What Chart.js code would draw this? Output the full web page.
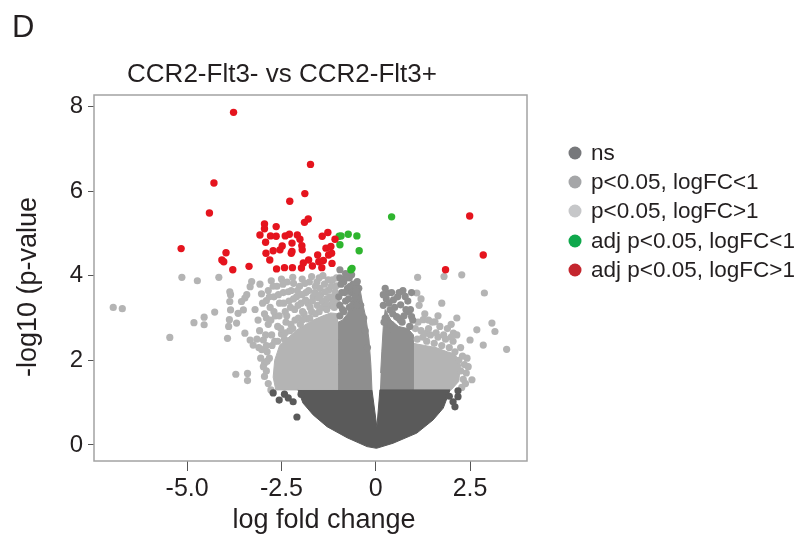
<!DOCTYPE html>
<html>
<head>
<meta charset="utf-8">
<script src="https://cdn.jsdelivr.net/npm/chart.js@4"></script>
<style>
  body { margin: 0; background: #fff; }
  #wrap { width: 809px; height: 550px; }
</style>
</head>
<body>
<div id="wrap"><canvas id="volcano"></canvas></div>
<script>
// axis ticks and labels
const xTicks = [-5, -2.5, 0, 2.5]
const yTicks = [0, 2, 4, 6, 8]
const legendLabels = ['ns', 'p<0.05, logFC<1', 'p<0.05, logFC>1', 'adj p<0.05, logFC<1', 'adj p<0.05, logFC>1']

// dense clouds, read as outlines [logFC, -log10 p]
const nsCore = [[-2.06,1.3],[-1.93,0.99],[-1.66,0.71],[-1.29,0.43],[-0.76,0.17],[-0.23,-0.04],[0.02,-0.08],[0.46,0.04],[1.09,0.28],[1.52,0.59],[1.79,0.87],[1.97,1.3],[0.11,1.3],[0.03,0.42],[-0.1,1.3]]
const lowFcLeftCore = [[-1.0,1.3],[-0.1,1.3],[-0.13,1.9],[-0.18,2.5],[-0.26,3.0],[-0.36,3.4],[-0.45,3.85],[-0.52,3.9],[-0.62,3.45],[-0.75,3.1],[-0.88,2.95],[-1.0,2.9]]
const highFcLeftCore = [[-1.0,1.3],[-2.65,1.3],[-2.72,1.6],[-2.68,2.0],[-2.55,2.35],[-2.3,2.55],[-2.09,2.72],[-1.85,2.85],[-1.66,2.95],[-1.4,3.05],[-1.2,3.12],[-1.0,3.1]]
const lowFcRightCore = [[0.11,1.3],[1.0,1.3],[1.0,2.6],[0.85,2.75],[0.6,2.8],[0.4,2.95],[0.25,3.2],[0.2,2.8],[0.16,2.2],[0.13,1.7]]
const highFcRightCore = [[1.0,1.3],[2.0,1.3],[2.2,1.5],[2.25,1.9],[2.1,2.15],[1.9,2.2],[1.6,2.3],[1.3,2.35],[1.0,2.4]]

// single genes outside the dense clouds
const nsPoints = [[-2.72,1.23],[-2.56,1.06],[-2.32,1.11],[-2.19,1.02],[-2.09,0.66],[-2.42,1.2],[-1.98,1.2],
  [2.05,1.02],[2.18,1.14],[2.18,1.28],[2.1,0.9],[1.95,1.15]]
const lowFcPoints = [[-0.95,3.3],[-0.9,3.6],[-0.85,3.85],[-0.8,3.4],[-0.75,3.7],[-0.7,3.95],[-0.65,3.6],[-0.6,3.8],
  [-0.55,3.5],[-0.95,3.05],[-0.85,3.15],[-0.7,3.25],[-0.45,3.7],[-0.4,3.3],[-0.32,3.0],[-0.28,2.7],[-0.22,2.3],
  [-0.86,3.9],[-0.64,4.02],[-0.49,3.86],[-0.95,4.14],
  [-0.98,3.5],[-0.92,3.8],[-0.88,3.2],[-0.82,3.6],[-0.78,3.95],[-0.72,3.45],[-0.68,3.75],[-0.62,3.3],[-0.58,3.65],
  [-0.52,3.65],[-0.5,3.3],[-0.95,3.95],[-0.8,4.05],
  [0.33,3.59],[0.47,3.43],[0.78,3.51],[0.66,3.31],[0.87,3.15],[0.95,3.03],[0.55,3.03],[0.38,3.19],[0.2,3.3],
  [0.25,3.0],[0.3,2.7],[0.45,3.1],[0.6,3.0],[0.7,2.9],[0.8,3.2],[0.9,2.8],[0.28,3.45],[0.72,3.65],
  [0.2,3.55],[0.22,2.9],[0.35,3.35],[0.4,2.85],[0.5,3.25],[0.58,3.5],[0.65,2.95],[0.75,3.05],[0.85,3.4],
  [0.92,3.2],[0.98,2.95],[0.62,3.6],[0.42,3.6],[0.95,3.6],[0.25,3.7]]
const highFcPoints = [[-6.96,3.25],[-6.72,3.22],[-5.46,2.54],[-5.14,3.96],[-4.73,3.88],[-4.16,3.96],[-4.82,2.89],
  [-4.55,3.02],[-4.55,2.84],[-4.27,3.14],[-3.71,1.67],[-3.4,1.69],[-3.4,1.52],[-2.95,1.93],[-3.02,2.25],[-3.25,2.36],
  [-3.33,2.48],[-3.47,2.64],[-3.93,2.52],[-3.9,2.8],[-3.88,2.96],[-3.85,3.19],[-3.87,3.39],[-3.85,3.55],[-3.87,3.62],
  [-3.69,2.88],[-3.65,3.11],[-3.56,3.39],[-3.51,3.19],[-3.47,3.47],[-3.42,3.55],[-3.33,3.74],[-3.29,3.86],
  [-3.07,3.8],[-3.03,3.57],[-2.9,3.41],[-2.85,3.65],[-2.77,3.88],
  [-3.2,3.2],[-3.12,2.95],[-3.08,2.7],[-2.98,2.48],[-2.95,3.1],[-2.88,2.2],[-2.85,2.85],[-2.8,3.25],[-2.76,2.6],
  [-2.7,3.5],[-2.66,3.05],[-2.6,2.8],[-2.62,3.75],[-2.55,3.35],[-2.5,3.92],[-2.5,2.62],[-2.45,3.6],[-2.4,3.15],
  [-2.38,2.9],[-2.35,3.85],[-2.3,3.4],[-2.25,2.85],[-2.24,3.65],[-2.2,3.96],[-2.15,3.2],[-2.1,3.5],[-2.05,3.0],
  [-2.02,3.75],[-1.98,3.35],[-1.95,3.92],[-1.9,3.1],[-1.85,3.6],[-1.8,3.35],[-1.76,3.85],[-1.7,3.15],[-1.66,3.5],
  [-1.6,3.75],[-1.55,3.3],[-1.5,3.95],[-1.46,3.55],[-1.4,3.25],[-1.36,3.8],[-1.3,3.45],[-1.25,3.66],[-1.2,3.3],
  [-1.15,3.9],[-1.1,3.52],[-1.05,3.76],
  [-3.0,3.35],[-2.92,2.6],[-2.9,3.0],[-2.82,3.5],[-2.78,2.95],[-2.72,3.75],[-2.7,3.15],[-2.68,2.45],[-2.58,3.55],
  [-2.56,3.05],[-2.52,2.75],[-2.46,3.8],[-2.44,3.35],[-2.42,2.5],[-2.36,3.05],[-2.32,3.62],[-2.28,2.7],[-2.26,3.25],
  [-2.18,3.82],[-2.18,3.45],[-2.14,2.95],[-2.08,3.65],[-2.06,3.3],[-2.0,2.85],[-1.96,3.55],[-1.94,3.15],[-1.88,3.82],
  [-1.86,3.42],[-1.82,2.98],[-1.78,3.65],[-1.74,3.25],[-1.7,3.98],[-1.68,3.4],[-1.62,3.6],[-1.6,3.1],[-1.56,3.85],
  [-1.52,3.48],[-1.48,3.7],[-1.42,3.4],[-1.4,4.0],[-1.34,3.62],[-1.3,3.3],[-1.26,3.9],[-1.22,3.5],[-1.18,3.75],
  [-1.14,3.4],[-1.08,3.62],[-1.04,3.95],[-1.02,3.35],
  [-2.85,1.45],[-2.9,1.75],[-2.82,2.05],[-2.75,2.35],[-2.6,2.45],[-2.4,2.65],[-2.2,2.75],[-1.95,2.95],[-1.75,3.0],
  [-1.5,3.15],[-1.3,3.2],[-1.1,3.25],[-2.95,1.62],[-2.98,1.85],[-2.9,2.35],[-3.05,2.05],[-3.15,2.5],[-3.1,2.3],
  [-2.78,1.3],[-2.88,1.98],
  [1.09,3.59],[1.11,3.96],[1.75,3.35],[1.81,3.98],[2.28,4.02],[2.88,3.59],[3.08,2.88],[3.16,2.68],[2.85,2.36],
  [3.47,2.26],[2.68,2.72],[2.5,2.48],[2.55,1.54],[2.28,1.36],[2.15,3.0],[2.06,2.64],[1.57,2.91],[1.35,2.64],[1.26,2.96],
  [1.1,2.5],[1.2,2.7],[1.35,2.45],[1.45,2.6],[1.55,2.4],[1.65,2.55],[1.75,2.35],[1.85,2.5],[1.95,2.3],[2.05,2.45],
  [2.1,2.2],[2.2,2.0],[2.25,1.75],[2.32,1.55],[2.15,2.6],[1.9,2.75],[1.7,2.8],[1.5,2.9],[1.3,3.1],[1.15,3.3],[2.38,1.45],
  [1.05,2.75],[1.12,2.9],[1.25,2.55],[1.4,2.75],[1.6,2.65],[1.8,2.6],[2.0,2.55],[2.25,2.3],[2.3,2.1],[2.35,1.9],
  [2.4,1.7],[2.0,2.85],[1.4,2.95],[1.65,3.05],[1.2,3.45],[2.45,1.85],[2.42,2.05]]
const adjLowPoints = [[-0.97,4.93],[-0.92,4.94],[-0.95,4.73],[-0.73,4.98],[-0.5,4.94],[-0.44,4.59],[-0.63,4.17],[-0.66,4.14],[0.42,5.39]]
const adjHighPoints = [[-3.77,7.86],[-1.73,6.63],[-4.29,6.19],[-1.88,5.94],[-2.28,5.76],[-4.41,5.48],[2.49,5.41],
  [-1.79,5.34],[-1.89,5.26],[-2.95,5.22],[-2.95,5.11],[-2.64,5.16],
  [-3.07,4.96],[-2.79,4.94],[-2.64,4.93],[-2.4,4.94],[-2.29,4.98],[-2.08,4.96],[-2.01,4.86],[-1.42,4.93],[-1.27,5.02],[-1.08,4.86],
  [-2.92,4.79],[-2.48,4.7],[-2.22,4.77],[-1.96,4.71],[-1.95,4.61],[-1.32,4.65],[-1.19,4.69],[-2.54,4.61],[-2.72,4.59],
  [-5.16,4.64],[2.85,4.49],[-3.97,4.54],[-4.08,4.37],[-4.03,4.33],
  [-2.91,4.53],[-2.81,4.37],[-2.22,4.57],[-2.24,4.53],[-1.54,4.49],[-1.39,4.36],[-1.25,4.49],[-1.17,4.53],[-1.51,4.33],[-1.16,4.29],
  [-3.36,4.22],[-3.79,4.14],[-2.63,4.16],[-2.42,4.19],[-2.21,4.19],[-1.97,4.18],[-1.78,4.37],[-1.68,4.23],[-1.43,4.19],[-1.92,4.3],
  [1.85,4.14]]

const plotColors = { ns: '#5a5a5a', low: '#8e8e8e', high: '#b4b4b4', green: '#2fb52f', red: '#e5141e' }
const legendColors = ['#77787b', '#a5a6a8', '#c6c7c9', '#0fa84c', '#c4262e']
const font = 'Liberation Sans, Arial, sans-serif'
const ink = '#231f20'

const xy = arr => arr.map(p => ({ x: p[0], y: p[1] }))

function cloud(points, color) {
  return { data: xy(points), showLine: true, fill: 'shape', backgroundColor: color, borderColor: color,
    borderWidth: 1, pointRadius: 0, pointHoverRadius: 0, tension: 0 }
}
function dots(points, color, r) {
  return { data: xy(points), backgroundColor: color, borderWidth: 0, pointRadius: r, pointHoverRadius: r }
}

const decor = {
  id: 'decor',
  beforeDraw(chart) {
    const c = chart.ctx
    c.save(); c.fillStyle = '#fff'; c.fillRect(0, 0, chart.width, chart.height); c.restore()
  },
  afterDraw(chart) {
    const c = chart.ctx
    const a = chart.chartArea
    c.save()
    c.strokeStyle = '#a3a3a3'; c.lineWidth = 1.5
    c.strokeRect(a.left, a.top, a.right - a.left, a.bottom - a.top)

    c.fillStyle = ink
    c.textBaseline = 'alphabetic'
    c.textAlign = 'left'
    c.font = '31px ' + font
    c.fillText('D', 12, 37)
    c.textAlign = 'center'
    c.font = '26px ' + font
    c.fillText('CCR2-Flt3- vs CCR2-Flt3+', 282, 82)
    c.font = '27px ' + font
    c.fillText('log fold change', 324, 528)
    c.save()
    c.translate(36, 287); c.rotate(-Math.PI / 2)
    c.fillText('-log10 (p-value', 0, 0)
    c.restore()

    // legend
    c.textAlign = 'left'; c.textBaseline = 'middle'
    c.font = '22.5px ' + font
    const rows = [153, 182, 211, 241, 270]
    legendLabels.forEach((lab, i) => {
      c.fillStyle = legendColors[i]
      c.beginPath(); c.arc(575, rows[i], 6.5, 0, Math.PI * 2); c.fill()
      c.fillStyle = ink
      c.fillText(lab, 591, rows[i] + 1)
    })
    c.restore()
  }
}

new Chart(document.getElementById('volcano'), {
  type: 'scatter',
  data: {
    datasets: [
      dots(adjHighPoints, plotColors.red, 3.7),
      dots(adjLowPoints, plotColors.green, 3.7),
      dots(nsPoints, plotColors.ns, 3.6),
      dots(lowFcPoints, plotColors.low, 3.6),
      dots(highFcPoints, plotColors.high, 3.6),
      cloud(nsCore, plotColors.ns),
      cloud(lowFcLeftCore, plotColors.low),
      cloud(lowFcRightCore, plotColors.low),
      cloud(highFcLeftCore, plotColors.high),
      cloud(highFcRightCore, plotColors.high)
    ]
  },
  options: {
    responsive: true,
    maintainAspectRatio: false,
    animation: false,
    events: [],
    layout: { padding: { top: 95, right: 282, bottom: 0, left: 0 } },
    plugins: { legend: { display: false }, tooltip: { enabled: false }, title: { display: false } },
    scales: {
      x: {
        type: 'linear', min: -7.47, max: 4.01,
        afterBuildTicks: s => { s.ticks = xTicks.map(v => ({ value: v })) },
        afterFit: s => { s.height = 89 },
        ticks: { callback: v => v === 0 ? '0' : v.toFixed(1), font: { size: 25, family: font }, color: ink,
          padding: 3, maxRotation: 0, autoSkip: false },
        grid: { drawOnChartArea: false, drawTicks: true, tickLength: 10, color: '#555', lineWidth: 1 },
        border: { display: false }
      },
      y: {
        type: 'linear', min: -0.38, max: 8.27,
        afterBuildTicks: s => { s.ticks = yTicks.map(v => ({ value: v })) },
        afterFit: s => { s.width = 94 },
        ticks: { font: { size: 24, family: font }, color: ink, padding: 5, autoSkip: false },
        grid: { drawOnChartArea: false, drawTicks: true, tickLength: 6, color: '#555', lineWidth: 1 },
        border: { display: false }
      }
    }
  },
  plugins: [decor]
});
</script>
</body>
</html>
